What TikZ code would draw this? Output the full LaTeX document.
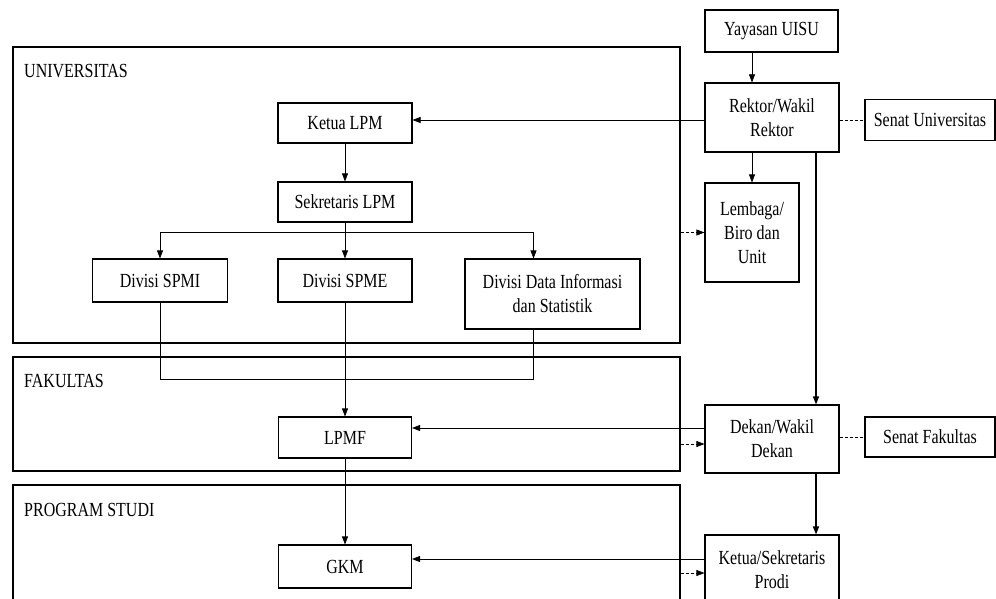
\documentclass[tikz,border=0pt]{standalone}
\usepackage{fontspec}
\setmainfont{Liberation Serif}[FakeStretch=0.8]
\usetikzlibrary{arrows.meta}
\newcommand{\boxfont}{\fontsize{20}{24}\selectfont}

\begin{document}
\begin{tikzpicture}[x=1pt, y=-1pt,
  box/.style={draw, line width=1.1pt, align=center, inner sep=2pt, font=\boxfont},
  frame/.style={draw, line width=1.1pt, inner sep=0pt},
  lbl/.style={anchor=west, inner sep=0pt, font=\boxfont},
  arr/.style={-{Triangle[length=8pt,width=6pt]}, line width=0.6pt},
  darr/.style={arr, dash pattern=on 3pt off 2pt},
  line/.style={line width=0.6pt}]
   \useasboundingbox (0,0) rectangle (996,599);

   \node[frame, minimum width=667, minimum height=296] (univ) at (346.5,195) {};
   \node[frame, minimum width=667, minimum height=114] (fak) at (346.5,414) {};
   \node[frame, minimum width=667, minimum height=140] (prodi) at (346.5,555) {};
   \node[lbl] (univlbl) at (24,71) {UNIVERSITAS};
   \node[lbl] (faklbl) at (24,381) {FAKULTAS};
   \node[lbl] (prodilbl) at (24,510) {PROGRAM STUDI};

   \node[box, minimum width=134, minimum height=40] (ketua) at (345,123) {Ketua LPM};
   \node[box, minimum width=134, minimum height=40] (sekr) at (345,202) {Sekretaris LPM};
   \node[box, minimum width=135, minimum height=43] (spmi) at (160,280.5) {Divisi SPMI};
   \node[box, minimum width=134, minimum height=43] (spme) at (345,280.5) {Divisi SPME};
   \node[box, minimum width=175, minimum height=70] (data) at (552.5,294) {Divisi Data Informasi\\dan Statistik};
   \node[box, minimum width=133, minimum height=41] (lpmf) at (345,437.5) {LPMF};
   \node[box, minimum width=133, minimum height=43] (gkm) at (345,566.5) {GKM};

   \node[box, minimum width=133, minimum height=42] (yayasan) at (771.5,31) {Yayasan UISU};
   \node[box, minimum width=134, minimum height=69] (rektor) at (772,117.5) {Rektor/Wakil\\Rektor};
   \node[box, minimum width=130, minimum height=41] (senatu) at (930,120) {Senat Universitas};
   \node[box, minimum width=94, minimum height=99] (lembaga) at (752,232.5) {Lembaga/\\Biro dan\\Unit};
   \node[box, minimum width=134, minimum height=68] (dekan) at (772,439) {Dekan/Wakil\\Dekan};
   \node[box, minimum width=130, minimum height=40] (senatf) at (930,437) {Senat Fakultas};
   \node[box, minimum width=134, minimum height=70] (kprodi) at (772,570) {Ketua/Sekretaris\\Prodi};

   \draw[arr] (ketua) -- (sekr);
   \draw[arr] (sekr.south) -- (spme.north);
   \draw[arr] ([yshift=-10]sekr.south) -| (spmi.north);
   \draw[arr] ([yshift=-10]sekr.south) -| ([xshift=-19]data.north);
   \draw[line] (spmi.south) -- ++(0,77) -| ([xshift=-19]data.south);
   \draw[arr] (spme.south) -- (lpmf.north);
   \draw[arr] (lpmf.south) -- (gkm.north);

   \draw[arr] (yayasan.south -| lembaga.north) -- (rektor.north -| lembaga.north);
   \draw[arr] (rektor.south -| lembaga.north) -- (lembaga.north);
   \draw[arr] ([yshift=-2.5]rektor.west) -- ([yshift=-2.5]rektor.west -| ketua.east);
   \draw[darr] (univ.east |- lembaga.west) -- (lembaga.west);
   \draw[line, dash pattern=on 3pt off 2pt] (senatu.west -| rektor.east) -- (senatu.west);
   \draw[arr, line width=1.3pt] ([xshift=44]rektor.south) -- ([xshift=44]dekan.north);

   \draw[arr] ([yshift=11]dekan.west) -- ([yshift=11]dekan.west -| lpmf.east);
   \draw[darr] ([yshift=-5]dekan.west -| fak.east) -- ([yshift=-5]dekan.west);
   \draw[line, dash pattern=on 3pt off 2pt] (senatf.west -| dekan.east) -- (senatf.west);
   \draw[arr, line width=1.3pt] ([xshift=44]dekan.south) -- ([xshift=44]kprodi.north);

   \draw[arr] ([yshift=11]kprodi.west) -- ([yshift=11]kprodi.west -| gkm.east);
   \draw[darr] ([yshift=-3]kprodi.west -| prodi.east) -- ([yshift=-3]kprodi.west);
\end{tikzpicture}
\end{document}
